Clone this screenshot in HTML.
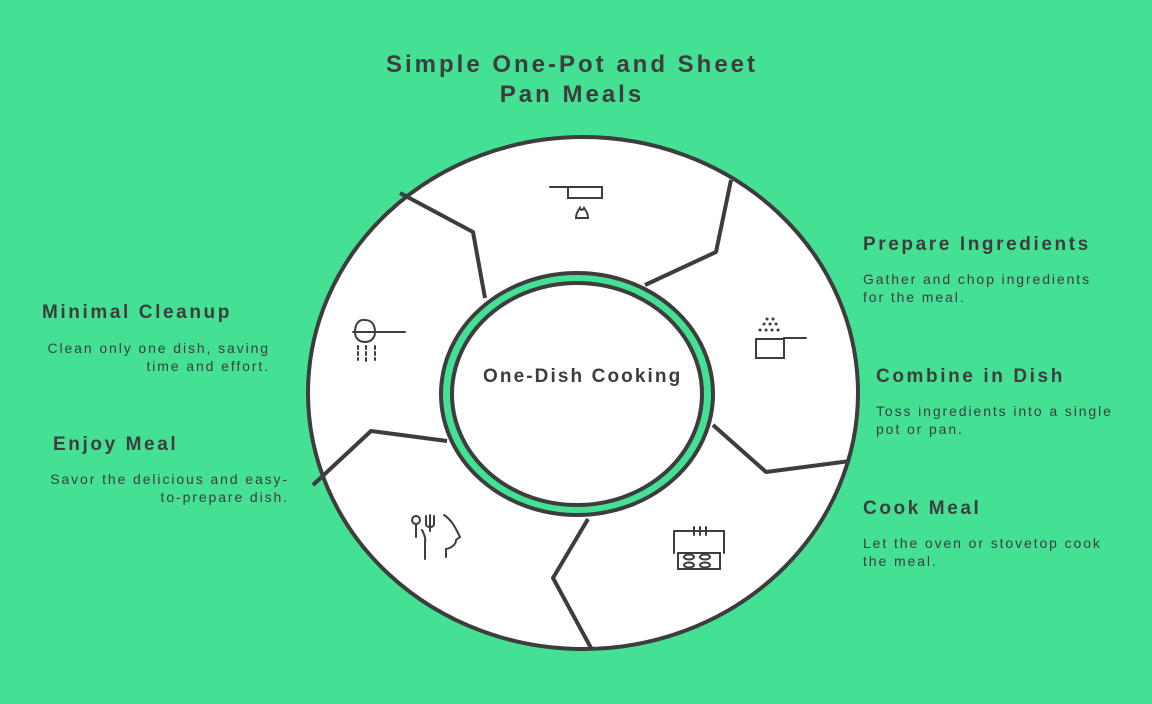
<!DOCTYPE html>
<html><head><meta charset="utf-8"><style>
body{margin:0;width:1152px;height:704px;background:#44e194;overflow:hidden;font-family:"Liberation Sans",sans-serif;color:#3d3d3d}
svg{position:absolute;left:0;top:0}
.t{position:absolute;font-weight:bold;font-size:19px;white-space:nowrap;letter-spacing:2.6px}
.d{position:absolute;font-size:14px;line-height:18px;letter-spacing:1.9px;white-space:nowrap}
</style></head><body>
<svg width="1152" height="704" viewBox="0 0 1152 704">
<ellipse cx="583" cy="393" rx="275" ry="256" fill="#fff" stroke="#3d3d3d" stroke-width="4"/>
<g fill="none" stroke="#3d3d3d" stroke-width="4" stroke-linejoin="round">
<polyline points="400,193 473,232 485,298"/>
<polyline points="731,180 716,252 645,285"/>
<polyline points="713,425 766,472 850,461"/>
<polyline points="588,519 553,578 591,648"/>
<polyline points="447,441 371,431 313,485"/>
</g>
<ellipse cx="577" cy="394" rx="136" ry="121" fill="#44e194" stroke="#3d3d3d" stroke-width="4"/>
<ellipse cx="577" cy="394" rx="125" ry="111" fill="#fff" stroke="#3d3d3d" stroke-width="4"/>
<g fill="none" stroke="#3d3d3d" stroke-width="2" stroke-linecap="round">
<path d="M550 187h52v11h-34v-11"/>
<path d="M576 218c0-6 3-8 4-10 1 3 3 2 4 0 1 2 4 4 4 10z"/>
<path d="M756 339v19h28v-20h22M756 339h28"/>
<path d="M760 330h.1M766 330h.1M772 330h.1M778 330h.1M764 324h.1M770 324h.1M776 324h.1M767 319h.1M773 319h.1" stroke-width="3"/>
<path d="M353 332h52M355 332c0-8 4-13 10-12 6 0 10 4 10 12 0 6-4 10-10 10s-10-4-10-10z"/>
<path d="M358 346v14M366 346v16M375 346v14" stroke-dasharray="3 3"/>
<path d="M674 531h50v22M674 531v22M678 553h42v16h-42z"/>
<path d="M694 527v8M700 527v8M706 527v8"/>
<ellipse cx="689" cy="557" rx="5" ry="2.5"/><ellipse cx="705" cy="557" rx="5" ry="2.5"/>
<ellipse cx="689" cy="565" rx="5" ry="2.5"/><ellipse cx="705" cy="565" rx="5" ry="2.5"/>
<circle cx="416" cy="520" r="4"/><path d="M416 524v13M422 530c2 4 4 8 3 13v16M430 515v16M426 516v8c0 4 8 4 8 0v-8M444 515c8 5 12 14 16 22l-4 3c0 5-5 8-10 9v8"/>
</g>
</svg>
<div class="t" style="left:372px;top:50px;font-size:24px;text-align:center;width:400px;line-height:30px;letter-spacing:3px">Simple One-Pot and Sheet<br>Pan Meals</div>
<div class="t" style="left:483px;top:366px;font-size:19px;letter-spacing:2.1px">One-Dish Cooking</div>
<div class="t" style="left:863px;top:234px">Prepare Ingredients</div>
<div class="d" style="left:863px;top:270px">Gather and chop ingredients<br>for the meal.</div>
<div class="t" style="left:876px;top:366px">Combine in Dish</div>
<div class="d" style="left:876px;top:402px">Toss ingredients into a single<br>pot or pan.</div>
<div class="t" style="left:863px;top:498px">Cook Meal</div>
<div class="d" style="left:863px;top:534px">Let the oven or stovetop cook<br>the meal.</div>
<div class="t" style="left:42px;top:302px">Minimal Cleanup</div>
<div class="d" style="left:0px;top:339px;width:270px;text-align:right">Clean only one dish, saving<br>time and effort.</div>
<div class="t" style="left:53px;top:434px">Enjoy Meal</div>
<div class="d" style="left:0px;top:470px;width:289px;text-align:right">Savor the delicious and easy-<br>to-prepare dish.</div>
</body></html>
